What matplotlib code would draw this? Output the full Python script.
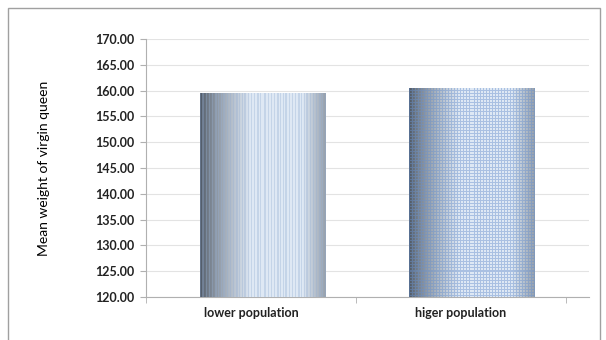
import matplotlib.pyplot as plt
import numpy as np
from matplotlib.patches import Rectangle

categories = ['lower population', 'higer population']
mean_weight = [159.6, 160.6]
y_ticks = [120, 125, 130, 135, 140, 145, 150, 155, 160, 165, 170]

plt.rcParams['font.family'] = ['Lato', 'DejaVu Sans']


def shade_profile(n):
    # dark on the left, pale in the middle, a little darker on the right
    t = np.linspace(0, 1, n)
    dark = np.array([75, 85, 98]) / 255
    light = np.array([222, 232, 244]) / 255
    edge = np.array([150, 160, 172]) / 255
    k = np.clip(t / 0.4, 0, 1) ** 0.7
    col = dark[None, :] * (1 - k[:, None]) + light[None, :] * k[:, None]
    r = np.clip((t - 0.82) / 0.18, 0, 1)[:, None]
    return col * (1 - r) + edge[None, :] * r


def stripe_texture(w, h):
    base = shade_profile(w)
    cols = np.arange(w)
    line = ((cols % 3 == 0) | (cols % 7 == 2)).astype(float)
    tint = np.array([150, 175, 210]) / 255
    base = base * (1 - 0.35 * line[:, None]) + tint * 0.35 * line[:, None]
    return np.repeat(base[None, :, :], h, axis=0)


def grid_texture(w, h):
    base = shade_profile(w)
    img = np.repeat(base[None, :, :], h, axis=0)
    blue = np.array([105, 145, 205]) / 255
    cols = (np.arange(w) % 3 == 0)[None, :]
    rows = (np.arange(h) % 3 == 0)[:, None]
    mask = (cols | rows).astype(float)[:, :, None]
    return img * (1 - 0.45 * mask) + blue * 0.45 * mask


fig = plt.figure(figsize=(6.06, 3.4), dpi=100)
fig.patches.append(Rectangle((8 / 606, -0.1), 592 / 606, 1.1 - 8 / 340,
                             transform=fig.transFigure, fill=False,
                             edgecolor='#a0a0a0', linewidth=1.0))
ax = fig.add_axes([146 / 606, 43 / 340, 443 / 606, 258 / 340])

x = np.arange(len(categories))
bars = ax.bar(x + 0.055, mean_weight, width=0.6, bottom=0,
              facecolor='none', edgecolor='none', zorder=3)

textures = [stripe_texture, grid_texture]
for patch, make in zip(bars.patches, textures):
    x0 = patch.get_x()
    x1 = x0 + patch.get_width()
    top = patch.get_height()
    img = make(127, 206)
    im = ax.imshow(img, extent=[x0, x1, 120, top], aspect='auto',
                   interpolation='nearest', zorder=3)
    im.set_clip_path(patch)

ax.set_xlim(-0.5, 1.61)
ax.set_ylim(120, 170)
ax.set_yticks(y_ticks)
ax.set_yticklabels([f'{v:.2f}' for v in y_ticks], fontsize=9,
                   fontweight='bold', color='#222222')
ax.set_xticks(x)
ax.set_xticklabels(categories, fontsize=9, fontweight='bold', color='#222222')
ax.set_xticks([-0.5, 0.5, 1.5], minor=True)
ax.tick_params(axis='x', which='major', length=0, pad=7)
ax.tick_params(axis='x', which='minor', length=4, color='#b0b0b0')
ax.tick_params(axis='y', length=4, color='#b0b0b0', pad=4)

ax.grid(axis='y', color='#e3e3e3', linewidth=0.8, zorder=0)
ax.set_axisbelow(True)
for side in ['top', 'right']:
    ax.spines[side].set_visible(False)
for side in ['left', 'bottom']:
    ax.spines[side].set_color('#b0b0b0')
    ax.spines[side].set_linewidth(0.8)

ax.set_ylabel('Mean weight of virgin queen', fontsize=10, color='#000000',
              labelpad=33)

fig.savefig('out.png', dpi=100)
